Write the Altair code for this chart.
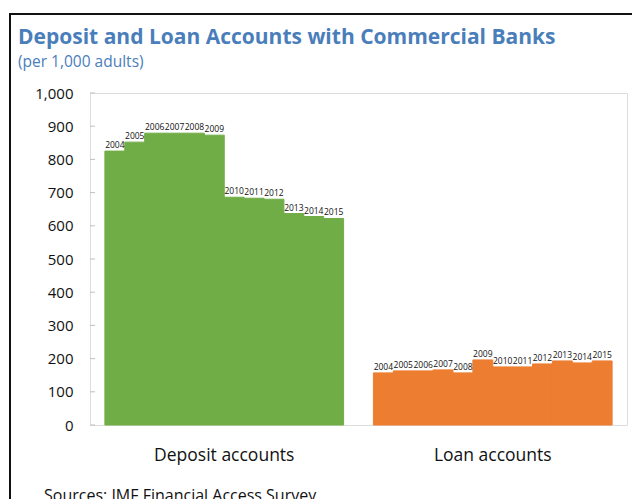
import altair as alt
import pandas as pd

years = [2004, 2005, 2006, 2007, 2008, 2009, 2010, 2011, 2012, 2013, 2014, 2015]
deposit = [825, 852, 879, 879, 879, 873, 686, 683, 680, 637, 628, 622]
loan = [157, 163, 163, 166, 157, 196, 175, 175, 184, 193, 187, 193]
categories = ["Deposit accounts", "Loan accounts"]
y_ticks = [0, 100, 200, 300, 400, 500, 600, 700, 800, 900, 1000]

rows = []
for y, v in zip(years, deposit):
    rows.append({"account": categories[0], "year": str(y), "value": v})
for y, v in zip(years, loan):
    rows.append({"account": categories[1], "year": str(y), "value": v})
df = pd.DataFrame(rows)
tick_df = pd.DataFrame({"t": y_ticks})

FONT = "Open Sans"
BLUE = "#4A7EBB"
color_scale = alt.Scale(domain=categories, range=["#70AD47", "#ED7D31"])

x_enc = alt.X("account:N", sort=categories,
              scale=alt.Scale(paddingInner=0.111, paddingOuter=0.0555),
              axis=alt.Axis(title=None, domain=False, ticks=False, labelAngle=0,
                            labelFontSize=17.5, labelPadding=21, labelColor="#111111",
                            labelFont=FONT))
xo_enc = alt.XOffset("year:O", scale=alt.Scale(paddingInner=0, paddingOuter=0))
y_scale = alt.Scale(domain=[0, 1000], nice=False)
y_axis = alt.Axis(title=None, values=y_ticks, domain=False,
                  labelExpr="format(datum.value, ',')", labelOverlap=False,
                  ticks=False, grid=False, labelFontSize=15,
                  labelPadding=17, labelColor="#111111", labelFont=FONT)

bars = alt.Chart(df).mark_bar(strokeWidth=1).encode(
    x=x_enc,
    xOffset=xo_enc,
    y=alt.Y("value:Q", scale=y_scale, axis=y_axis),
    color=alt.Color("account:N", sort=categories, scale=color_scale, legend=None),
    stroke=alt.Stroke("account:N", sort=categories, scale=color_scale, legend=None),
)

labels = alt.Chart(df).mark_text(baseline="bottom", dy=-1, fontSize=8.5,
                                 font=FONT, color="#111111").encode(
    x=alt.X("account:N", sort=categories),
    xOffset=alt.XOffset("year:O"),
    y=alt.Y("value:Q", scale=y_scale, axis=y_axis),
    text="year:N",
)

ticks = alt.Chart(tick_df).mark_rule(color="#BFBFBF", strokeWidth=1).encode(
    y=alt.Y("t:Q", scale=y_scale, axis=y_axis),
    x=alt.value(0),
    x2=alt.value(5),
)

title = alt.Chart(pd.DataFrame({"s": ["Deposit and Loan Accounts with Commercial Banks"]})).mark_text(
    align="left", baseline="alphabetic", fontSize=21, fontWeight="bold", font=FONT, color=BLUE
).encode(text="s:N", x=alt.value(-72), y=alt.value(-49))

subtitle = alt.Chart(pd.DataFrame({"s": ["(per 1,000 adults)"]})).mark_text(
    align="left", baseline="alphabetic", fontSize=15.5, font=FONT, color=BLUE
).encode(text="s:N", x=alt.value(-72), y=alt.value(-26))

source = alt.Chart(pd.DataFrame({"s": ["Sources: IMF Financial Access Survey"]})).mark_text(
    align="left", baseline="alphabetic", fontSize=16, font=FONT, color="#111111"
).encode(text="s:N", x=alt.value(-46), y=alt.value(408))

border_left = alt.Chart(pd.DataFrame({"a": [0]})).mark_rule(color="#111111", strokeWidth=2).encode(
    x=alt.value(-80), y=alt.value(-79), y2=alt.value(420))
border_top = alt.Chart(pd.DataFrame({"a": [0]})).mark_rule(color="#111111", strokeWidth=2).encode(
    x=alt.value(-81), x2=alt.value(560), y=alt.value(-79))

chart = alt.layer(bars, labels, ticks, title, subtitle, source, border_left, border_top).properties(
    width=537, height=332,
    autosize=alt.AutoSizeParams(type="none"),
    padding={"left": 82, "top": 85, "right": 5, "bottom": 74},
).configure_view(stroke="#BFBFBF", strokeWidth=1).configure(background="white")

chart.save("out.html", embed_options={"renderer": "svg", "actions": False})
